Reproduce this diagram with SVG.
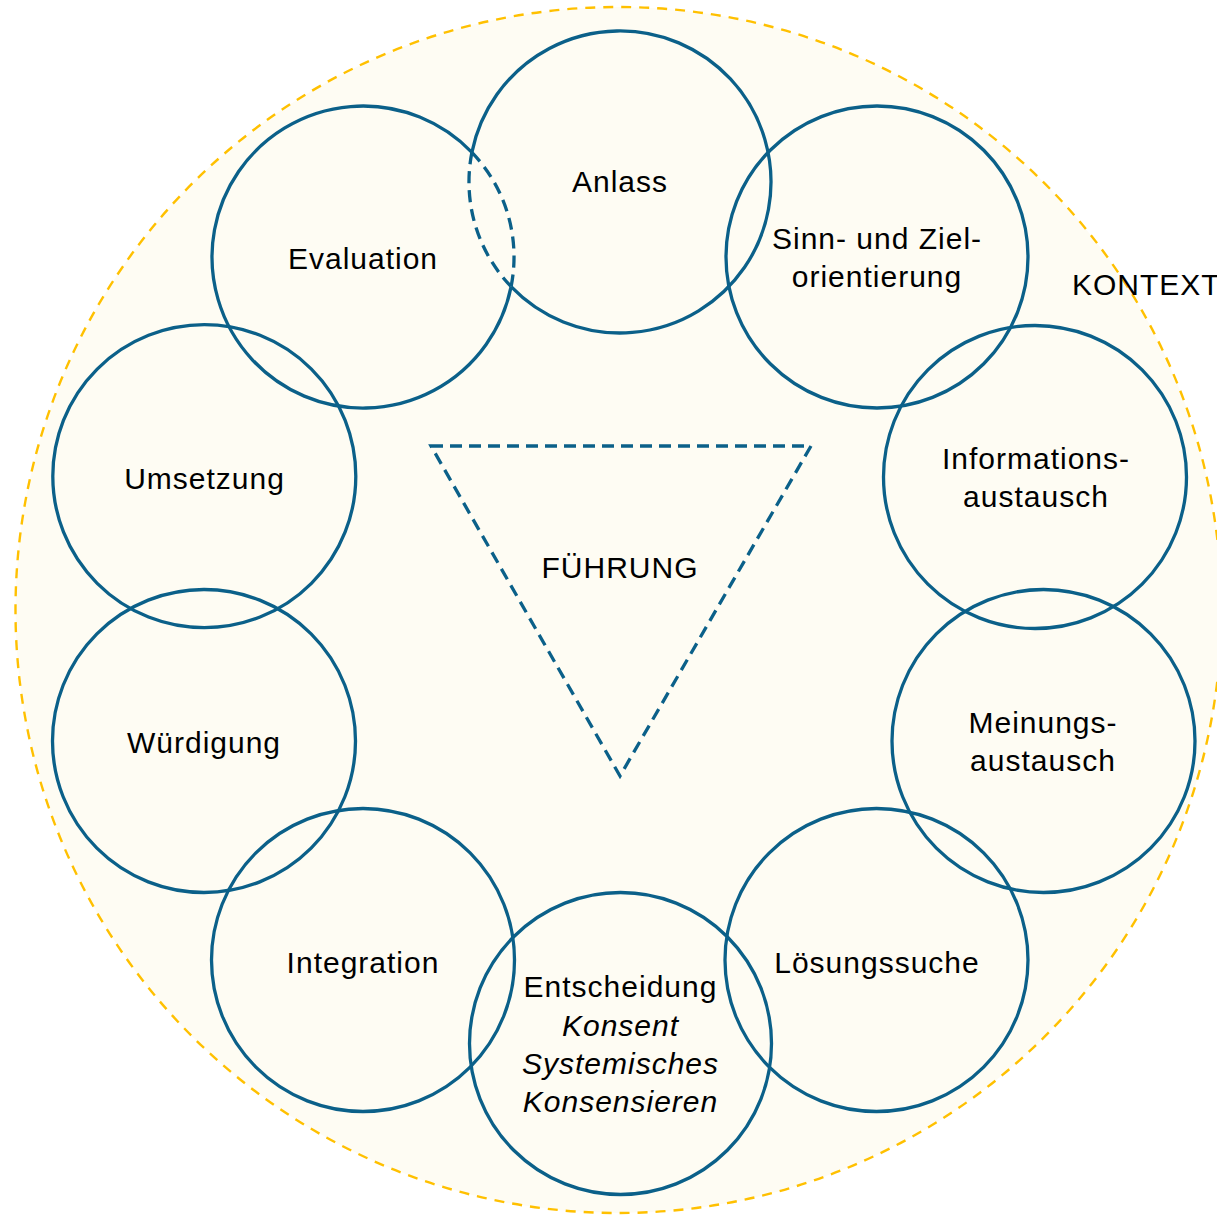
<svg xmlns="http://www.w3.org/2000/svg" width="1217" height="1216" viewBox="0 0 1217 1216">
  <style>
    .ring { fill: none; stroke: #0b6089; stroke-width: 3.3; }
    .dash { fill: none; stroke: #0b6089; stroke-width: 3.3; stroke-dasharray: 12 7; }
    .lbl { font-family: "Liberation Sans", Arial, sans-serif; font-size: 30px; letter-spacing: 1px; fill: #000; text-anchor: middle; }
    .it { font-style: italic; }
  </style>
  <rect x="0" y="0" width="1217" height="1216" fill="#ffffff"/>

  <!-- context area -->
  <g id="kontext">
    <circle cx="618.5" cy="610" r="603" fill="#fefcf3" stroke="#ffc000" stroke-width="2.4" stroke-dasharray="10 8"/>
    <text class="lbl" x="1072" y="295" style="text-anchor:start">KONTEXT</text>
  </g>

  <!-- leadership triangle -->
  <g id="fuehrung">
    <polygon class="dash" points="431,446 811,446 620,776" stroke-dasharray="12 6" stroke-linejoin="miter"/>
    <text class="lbl" x="620" y="578">FÜHRUNG</text>
  </g>

  <g id="anlass">
    <path class="ring" d="M471.9,152.4 A151,151 0 1 1 511.1,286.6"/>
    <path class="dash" d="M471.9,152.4 A151,151 0 0 0 511.1,286.6"/>
    <text class="lbl" x="620" y="192">Anlass</text>
  </g>

  <g id="sinn">
    <circle class="ring" cx="877" cy="257" r="151"/>
    <text class="lbl" x="877" y="249">Sinn- und Ziel-</text>
    <text class="lbl" x="877" y="286.5">orientierung</text>
  </g>

  <g id="informationsaustausch">
    <circle class="ring" cx="1035" cy="477" r="151.5"/>
    <text class="lbl" x="1036" y="469">Informations-</text>
    <text class="lbl" x="1036" y="507">austausch</text>
  </g>

  <g id="meinungsaustausch">
    <circle class="ring" cx="1043.5" cy="741" r="151.5"/>
    <text class="lbl" x="1043" y="733">Meinungs-</text>
    <text class="lbl" x="1043" y="771">austausch</text>
  </g>

  <g id="loesungssuche">
    <circle class="ring" cx="876.5" cy="960" r="151.5"/>
    <text class="lbl" x="877" y="972.5">Lösungssuche</text>
  </g>

  <g id="entscheidung">
    <circle class="ring" cx="620.5" cy="1043.5" r="151"/>
    <text class="lbl" x="620.5" y="997">Entscheidung</text>
    <text class="lbl it" x="620.5" y="1035.5">Konsent</text>
    <text class="lbl it" x="620.5" y="1073.5">Systemisches</text>
    <text class="lbl it" x="620.5" y="1112">Konsensieren</text>
  </g>

  <g id="integration">
    <circle class="ring" cx="363" cy="960" r="151.5"/>
    <text class="lbl" x="363" y="972.5">Integration</text>
  </g>

  <g id="wuerdigung">
    <circle class="ring" cx="204" cy="741" r="151.5"/>
    <text class="lbl" x="204" y="753">Würdigung</text>
  </g>

  <g id="umsetzung">
    <circle class="ring" cx="204.3" cy="476.2" r="151.5"/>
    <text class="lbl" x="204.5" y="489">Umsetzung</text>
  </g>

  <g id="evaluation">
    <path class="ring" d="M471.9,152.4 A151,151 0 1 0 511.1,286.6"/>
    <path class="dash" d="M471.9,152.4 A151,151 0 0 1 511.1,286.6"/>
    <text class="lbl" x="363" y="269">Evaluation</text>
  </g>
</svg>
